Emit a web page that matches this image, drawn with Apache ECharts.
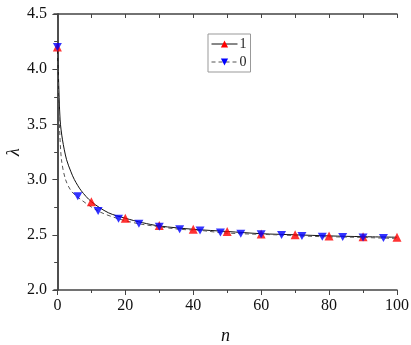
<!DOCTYPE html>
<html>
<head>
<meta charset="utf-8">
<script src="https://cdn.jsdelivr.net/npm/echarts@6/dist/echarts.min.js"></script>
<style>
  html, body { margin: 0; padding: 0; background: #fff; }
  #chart { width: 411px; height: 345px; }
</style>
</head>
<body>
<div id="chart"></div>
<script>
// curve "1" (solid)
var solidN = [0, 0.3, 0.8, 1.5, 2.7, 4, 5, 7, 10, 15, 20, 25, 30, 40, 50, 60, 70, 80, 90, 100];
var solidV = [4.2, 3.95, 3.54, 3.36, 3.18, 3.07, 3.0, 2.9, 2.8, 2.7, 2.65, 2.61, 2.58, 2.55, 2.53, 2.51, 2.5, 2.49, 2.483, 2.478];
// curve "0" (dashed)
var dashN = [0, 0.3, 0.6, 1.2, 2.4, 4, 6, 12, 18, 24, 30, 36, 42, 48, 54, 60, 66, 72, 78, 84, 90, 96, 100];
var dashV = [4.2, 3.85, 3.5, 3.18, 3.0, 2.9, 2.84, 2.715, 2.645, 2.6, 2.573, 2.55, 2.54, 2.52, 2.51, 2.504, 2.498, 2.49, 2.483, 2.48, 2.476, 2.47, 2.468];
// markers
var redN = [0, 10, 20, 30, 40, 50, 60, 70, 80, 90, 100];
var redV = [4.2, 2.8, 2.65, 2.585, 2.55, 2.53, 2.507, 2.5, 2.49, 2.483, 2.478];
var blueN = [0, 6, 12, 18, 24, 30, 36, 42, 48, 54, 60, 66, 72, 78, 84, 90, 96];
var blueV = [4.2, 2.85, 2.715, 2.645, 2.6, 2.573, 2.55, 2.54, 2.52, 2.51, 2.504, 2.498, 2.49, 2.483, 2.48, 2.476, 2.47];
// tick positions on the n axis
var xMajor = [0, 20, 40, 60, 80, 100];
var xMinor = [10, 30, 50, 70, 90];

function pairs(xs, ys) {
  return xs.map(function (x, i) { return [x, ys[i]]; });
}

var font = 'Liberation Serif';
var downTri = 'path://M0,0 L10,0 L5,9 Z';
var axisCol = '#444';

var myChart = echarts.init(document.getElementById('chart'));
myChart.setOption({
  animation: false,
  grid: { left: 54, right: 14, top: 14, bottom: 55, outerBoundsMode: 'none', containLabel: false },
  legend: {
    orient: 'vertical',
    left: 208,
    top: 34,
    borderColor: '#999',
    borderWidth: 1,
    padding: [3, 4, 3, 3],
    itemWidth: 26,
    itemHeight: 9,
    itemGap: 4,
    lineStyle: { width: 1 },
    textStyle: { fontFamily: font, fontSize: 14, color: '#222', padding: [0, 0, 0, -3] },
    data: ['1', '0']
  },
  xAxis: [{
    type: 'value', min: -1, max: 100,
    name: 'n', nameLocation: 'middle', nameGap: 37,
    nameTextStyle: { fontFamily: font, fontStyle: 'italic', fontSize: 18, color: '#111' },
    axisLine: { lineStyle: { color: axisCol, width: 1.5 } },
    axisTick: { customValues: xMajor, length: 5, lineStyle: { color: axisCol } },
    axisLabel: { fontFamily: font, fontSize: 16, color: '#111', customValues: xMajor },
    splitLine: { show: false }
  }, {
    type: 'value', position: 'top', min: -1, max: 100,
    axisLine: { show: true, lineStyle: { color: axisCol, width: 1.5 } },
    axisTick: { inside: true, length: 4, customValues: xMajor.concat(xMinor), lineStyle: { color: axisCol } },
    axisLabel: { show: false },
    splitLine: { show: false }
  }, {
    type: 'value', position: 'bottom', min: -1, max: 100,
    axisLine: { show: false },
    axisTick: { length: 3, customValues: xMinor, lineStyle: { color: axisCol } },
    axisLabel: { show: false },
    splitLine: { show: false }
  }],
  yAxis: [{
    type: 'value', min: 2.0, max: 4.5, interval: 0.5,
    name: 'λ', nameLocation: 'middle', nameGap: 31, nameRotate: 90,
    nameMoveOverlap: false,
    nameTextStyle: { fontFamily: font, fontStyle: 'italic', fontSize: 18, color: '#111' },
    axisLine: { show: true, lineStyle: { color: axisCol, width: 1.5 } },
    axisTick: { show: true, length: 5, lineStyle: { color: axisCol } },
    minorTick: { show: true, splitNumber: 2, length: 3, lineStyle: { color: axisCol } },
    axisLabel: { fontFamily: font, fontSize: 16, color: '#111', margin: 7,
      formatter: function (v) { return v.toFixed(1); } },
    splitLine: { show: false }
  }, {
    type: 'value', position: 'right', min: 2.0, max: 4.5, interval: 0.5,
    axisLine: { show: true, lineStyle: { color: axisCol, width: 1.5 } },
    axisTick: { show: true, inside: true, length: 4, lineStyle: { color: axisCol } },
    minorTick: { show: true, splitNumber: 2, length: 3, lineStyle: { color: axisCol } },
    axisLabel: { show: false },
    splitLine: { show: false }
  }],
  series: [{
    name: '1', type: 'line', data: pairs(solidN, solidV),
    showSymbol: false, symbol: 'triangle', symbolSize: 9,
    itemStyle: { color: '#ff0000' },
    lineStyle: { color: '#111', width: 1 },
    smooth: 0.3
  }, {
    name: '0', type: 'line', data: pairs(dashN, dashV),
    showSymbol: false, symbol: downTri, symbolSize: [9, 8],
    itemStyle: { color: '#0000ff' },
    lineStyle: { color: '#555', width: 1, type: [4, 3] },
    smooth: 0.3
  }, {
    name: '1', type: 'scatter', data: pairs(redN, redV),
    symbol: 'triangle', symbolSize: 9,
    itemStyle: { color: '#ff0000' }, z: 3
  }, {
    name: '0', type: 'scatter', data: pairs(blueN, blueV),
    symbol: downTri, symbolSize: [9, 8],
    itemStyle: { color: '#0000ff' }, z: 4
  }]
});
</script>
</body>
</html>
